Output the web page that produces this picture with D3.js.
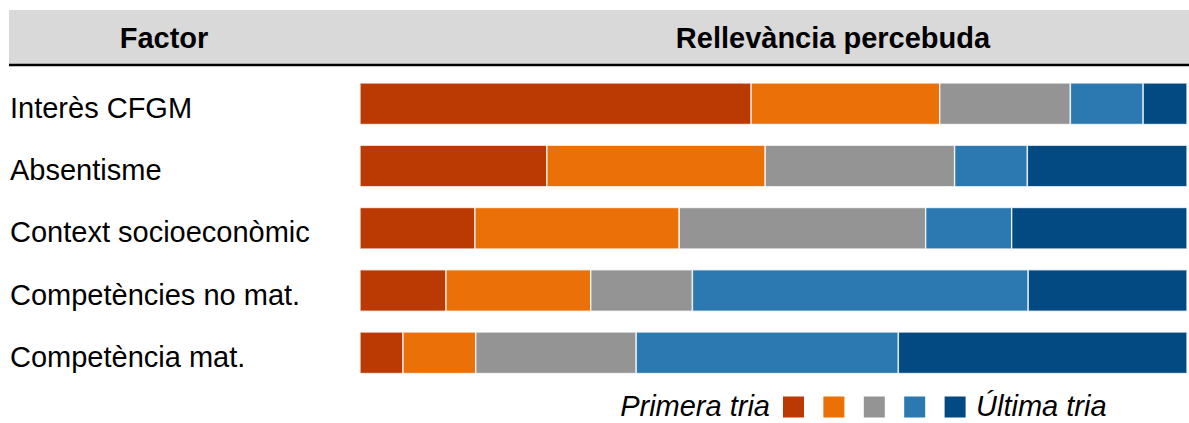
<!DOCTYPE html>
<html>
<head>
<meta charset="utf-8">
<script src="https://cdn.jsdelivr.net/npm/d3@7"></script>
<style>
  html, body { margin: 0; padding: 0; background: #fff; }
  svg { display: block; font-family: "Liberation Sans", Arial, sans-serif; }
</style>
</head>
<body>
<svg id="chart" width="1189" height="423"></svg>
<script>
// Factors rated by perceived relevance (share of answers per ranking position, %)
const factors = [
  "Interès CFGM",
  "Absentisme",
  "Context socioeconòmic",
  "Competències no mat.",
  "Competència mat."
];
const rankKeys = ["r1", "r2", "r3", "r4", "r5"];
const rank1 = [47.3, 22.6, 13.9, 10.4, 5.2];
const rank2 = [22.8, 26.4, 24.7, 17.5, 8.8];
const rank3 = [15.8, 22.9, 29.8, 12.3, 19.4];
const rank4 = [8.8, 8.8, 10.4, 40.6, 31.7];
const rank5 = [5.3, 19.3, 21.2, 19.2, 34.9];
const colors = ["#bb3a03", "#eb7007", "#949494", "#2b79b0", "#034a82"];
const headerFactor = "Factor";
const headerRelevance = "Rellevància percebuda";
const legendFirst = "Primera tria";
const legendLast = "Última tria";

const rows = factors.map((f, i) => ({
  factor: f, r1: rank1[i], r2: rank2[i], r3: rank3[i], r4: rank4[i], r5: rank5[i]
}));

const svg = d3.select("#chart");

// Header band
svg.append("rect")
  .attr("x", 9).attr("y", 10).attr("width", 1180).attr("height", 54)
  .attr("fill", "#d9d9d9");
svg.append("line")
  .attr("x1", 9).attr("x2", 1189).attr("y1", 65).attr("y2", 65)
  .attr("stroke", "#000").attr("stroke-width", 2.6);
svg.append("text")
  .attr("x", 164).attr("y", 48)
  .attr("text-anchor", "middle")
  .attr("font-size", 29).attr("font-weight", "bold").attr("fill", "#000")
  .text(headerFactor);
svg.append("text")
  .attr("x", 833).attr("y", 48)
  .attr("text-anchor", "middle")
  .attr("font-size", 29).attr("font-weight", "bold").attr("fill", "#000")
  .text(headerRelevance);

// Scales
const x = d3.scaleLinear().domain([0, 100]).range([360, 1187]);
const y = d3.scaleBand()
  .domain(factors)
  .range([72.6, 383.9])
  .paddingInner(1 / 3)
  .paddingOuter(1 / 6);
const color = d3.scaleOrdinal().domain(rankKeys).range(colors);

const series = d3.stack().keys(rankKeys)(rows);

// Stacked bars
svg.append("g")
  .selectAll("g")
  .data(series)
  .join("g")
  .attr("fill", d => color(d.key))
  .selectAll("rect")
  .data(d => d)
  .join("rect")
  .attr("x", d => x(d[0]))
  .attr("y", d => y(d.data.factor))
  .attr("width", d => x(d[1]) - x(d[0]))
  .attr("height", y.bandwidth())
  .attr("stroke", "#fff")
  .attr("stroke-opacity", 0.8)
  .attr("stroke-width", 1.4);

// Row labels
svg.append("g")
  .selectAll("text")
  .data(factors)
  .join("text")
  .attr("x", 10)
  .attr("y", d => y(d) + y.bandwidth() / 2 + 14)
  .attr("font-size", 29)
  .attr("fill", "#000")
  .text(d => d);

// Legend
const legend = svg.append("g");
legend.append("text")
  .attr("x", 770).attr("y", 416)
  .attr("text-anchor", "end")
  .attr("font-size", 29).attr("font-style", "italic").attr("fill", "#000")
  .text(legendFirst);
legend.selectAll("rect")
  .data(rankKeys)
  .join("rect")
  .attr("x", (d, i) => 783 + i * 40.4)
  .attr("y", 396.5)
  .attr("width", 21)
  .attr("height", 21)
  .attr("fill", d => color(d));
legend.append("text")
  .attr("x", 976).attr("y", 416)
  .attr("font-size", 29).attr("font-style", "italic").attr("fill", "#000")
  .text(legendLast);
</script>
</body>
</html>
